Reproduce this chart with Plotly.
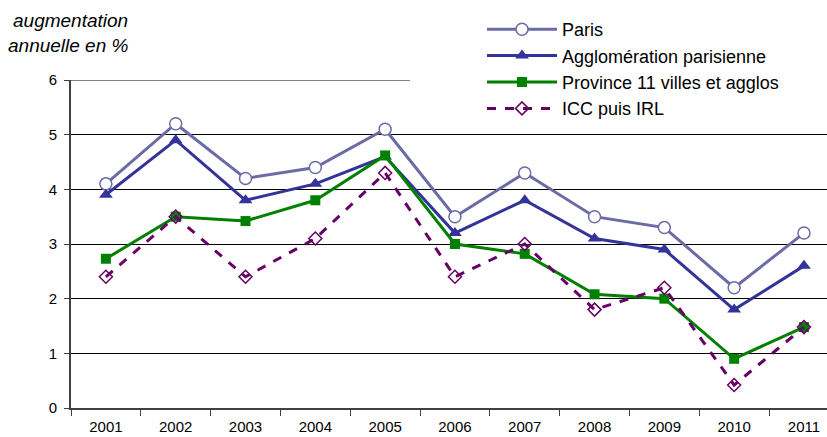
import plotly.graph_objects as go

years = ["2001", "2002", "2003", "2004", "2005", "2006", "2007", "2008", "2009", "2010", "2011"]
paris = [4.1, 5.2, 4.2, 4.4, 5.1, 3.5, 4.3, 3.5, 3.3, 2.2, 3.2]
agglo = [3.9, 4.9, 3.8, 4.1, 4.6, 3.2, 3.8, 3.1, 2.9, 1.8, 2.6]
province = [2.73, 3.5, 3.42, 3.8, 4.62, 3.0, 2.82, 2.08, 2.0, 0.9, 1.48]
icc = [2.4, 3.5, 2.4, 3.1, 4.3, 2.4, 3.0, 1.8, 2.2, 0.42, 1.48]

FONT = "Liberation Sans, Arial, sans-serif"
FW, FH = 827, 437
L, R, T, B = 71, 0, 80, 29
W, H = FW - L - R, FH - T - B

def px(x, y):
    # window pixel coords -> paper coords
    return (x - L) / W, (FH - B - y) / H

fig = go.Figure()
fig.add_trace(go.Scatter(x=years, y=paris, name="Paris", mode="lines+markers",
                         line=dict(color="#6B6BA6", width=3),
                         marker=dict(symbol="circle", size=12, color="white",
                                     line=dict(color="#6B6BA6", width=1.5)),
                         cliponaxis=False, legendgroup="a"))
fig.add_trace(go.Scatter(x=years, y=agglo, name="Agglomération parisienne", mode="lines+markers",
                         line=dict(color="#333399", width=3),
                         marker=dict(symbol="triangle-up", size=12, color="#333399"),
                         cliponaxis=False, legendgroup="b"))
fig.add_trace(go.Scatter(x=years, y=province, name="Province 11 villes et agglos", mode="lines+markers",
                         line=dict(color="#008000", width=3),
                         marker=dict(symbol="square", size=10, color="#008000"),
                         cliponaxis=False, legendgroup="c"))
fig.add_trace(go.Scatter(x=years, y=icc, name="ICC puis IRL", mode="lines+markers",
                         line=dict(color="#660066", width=3, dash="dash"),
                         marker=dict(symbol="diamond-open", size=10, color="#660066",
                                     line=dict(color="#660066", width=1.5)),
                         cliponaxis=False, legendgroup="d"))

gx, _ = px(410, 0)
fig.update_layout(
    width=FW, height=FH,
    margin=dict(l=L, r=R, t=T, b=B, autoexpand=False),
    paper_bgcolor="white", plot_bgcolor="white",
    font=dict(family=FONT, size=15, color="black"),
    showlegend=True,
    legend=dict(x=482 / FW, y=1 - 11 / FH, xref="container", yref="container",
                xanchor="left", yanchor="top",
                bgcolor="rgba(255,255,255,0)", font=dict(family=FONT, size=18),
                tracegroupgap=0, itemwidth=70),
    xaxis=dict(type="category", showgrid=False, showline=True, linecolor="#404040", linewidth=2,
               ticks="outside", tickson="boundaries", ticklen=6, tickcolor="#404040",
               ticklabelstandoff=4,
               tickfont=dict(family=FONT, size=15), range=[-0.5, 10.33]),
    yaxis=dict(range=[0, 6], dtick=1, showgrid=True, gridcolor="black", gridwidth=1,
               showline=True, linecolor="#404040", linewidth=2, zeroline=False,
               ticks="outside", ticklen=5, tickcolor="#404040", ticklabelstandoff=4,
               tickfont=dict(family=FONT, size=15)),
    shapes=[
        dict(type="rect", xref="paper", yref="y", x0=gx, x1=1.0, y0=5.5, y1=6.05,
             fillcolor="white", line=dict(width=0), layer="between"),
        dict(type="line", xref="paper", yref="y", x0=0, x1=gx, y0=6, y1=6,
             line=dict(color="#808080", width=2), layer="between"),
    ],
)
for txt, (xx, yy) in [("augmentation", (11, 20)), ("annuelle en %", (6, 46))]:
    ax, ay = px(xx, yy)
    fig.add_annotation(text="<i>" + txt + "</i>", x=ax, y=ay, xref="paper", yref="paper",
                       xanchor="left", yanchor="middle", showarrow=False,
                       font=dict(family=FONT, size=19, color="black"))

fig.write_html("out.html", config={"displayModeBar": False},
               post_script="document.body.style.margin='0';document.body.style.overflow='hidden';")
